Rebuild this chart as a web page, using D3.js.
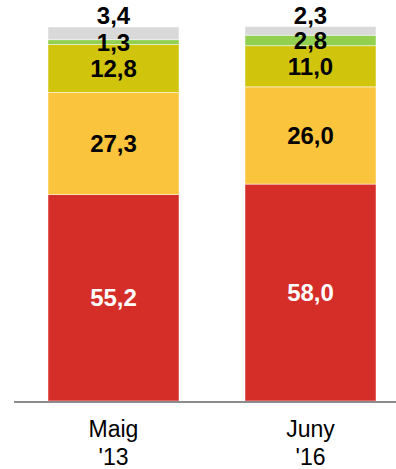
<!DOCTYPE html>
<html lang="en">
<head>
<meta charset="UTF-8">
<script src="https://d3js.org/d3.v7.min.js"></script>
<style>
body { margin: 0; background: #fff; }
svg { display: block; }
text { font-family: "Liberation Sans", Arial, sans-serif; }
</style>
</head>
<body>
<svg></svg>
<script>
// chart data
const periods = ["Maig\n'13", "Juny\n'16"];
const seriesNames = ["s1", "s2", "s3", "s4", "s5"];
const seriesColors = ["#d52e28", "#fbc43d", "#d0c40d", "#92d050", "#d9d9d9"];
const labelColors = ["#fff", "#000", "#000", "#000", "#000"];
const values2013 = [55.2, 27.3, 12.8, 1.3, 3.4];
const values2016 = [58.0, 26.0, 11.0, 2.8, 2.3];

const W = 396, H = 469;
const svg = d3.select("svg").attr("width", W).attr("height", H);

const rows = periods.map((p, i) => {
  const vals = i === 0 ? values2013 : values2016;
  const r = { period: p };
  seriesNames.forEach((s, j) => r[s] = vals[j]);
  return r;
});

const stacked = d3.stack().keys(seriesNames)(rows);

const x = d3.scaleBand().domain(periods).range([14, 410]).paddingInner(0.335).paddingOuter(0.1726);
const y = d3.scaleLinear().domain([0, 100]).range([401, 27]);

const fmt = v => d3.format(".1f")(v).replace(".", ",");

// bars
const layers = svg.append("g").selectAll("g")
  .data(stacked).join("g")
  .attr("fill", (d, i) => seriesColors[i]);

layers.selectAll("rect")
  .data(d => d)
  .join("rect")
  .attr("x", d => x(d.data.period))
  .attr("width", x.bandwidth())
  .attr("y", d => y(d[1]))
  .attr("height", d => y(d[0]) - y(d[1]))
  .attr("stroke", "#fff")
  .attr("stroke-opacity", 0.6)
  .attr("stroke-width", 0.8);

// value labels
stacked.forEach((layer, i) => {
  const last = i === stacked.length - 1;
  svg.append("g").selectAll("text")
    .data(layer).join("text")
    .attr("x", d => x(d.data.period) + x.bandwidth() / 2)
    .attr("y", d => last ? y(d[1]) - 3 : (y(d[0]) + y(d[1])) / 2 + 8.5)
    .attr("text-anchor", "middle")
    .attr("font-size", 24)
    .attr("font-weight", "bold")
    .attr("fill", labelColors[i])
    .text(d => fmt(d[1] - d[0]));
});

// axis line
svg.append("line")
  .attr("x1", 14).attr("x2", W)
  .attr("y1", 402).attr("y2", 402)
  .attr("stroke", "#8c8c8c")
  .attr("stroke-width", 2);

// category labels
const cat = svg.append("g").selectAll("text")
  .data(periods).join("text")
  .attr("x", d => x(d) + x.bandwidth() / 2)
  .attr("y", 437)
  .attr("text-anchor", "middle")
  .attr("font-size", 23)
  .attr("fill", "#000");
cat.selectAll("tspan")
  .data(d => d.split("\n")).join("tspan")
  .attr("x", function() { return this.parentNode.getAttribute("x"); })
  .attr("dy", (d, i) => i === 0 ? 0 : 28)
  .text(d => d);
</script>
</body>
</html>
